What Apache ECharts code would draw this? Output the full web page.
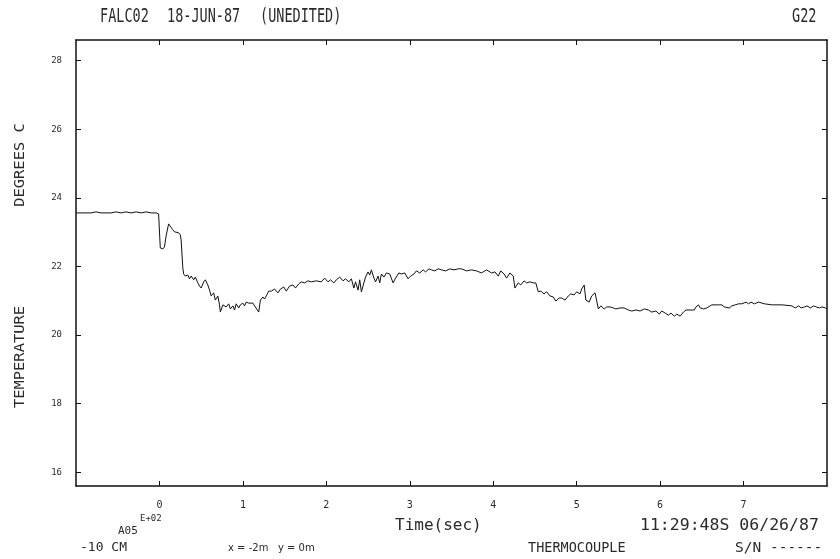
<!DOCTYPE html>
<html lang="en">
<head>
    <meta charset="UTF-8">
    <title>FALC02 thermocouple</title>
    <script src="https://cdn.jsdelivr.net/npm/echarts@6/dist/echarts.min.js"></script>
    <style>
        html, body { margin: 0; padding: 0; background: #fff; }
        #main { width: 840px; height: 559px; }
    </style>
</head>
<body>
<div id="main"></div>
<script type="text/javascript">
    // time in seconds (axis shows E+02), temperature in degrees C
    var timeSec = [-100, -82, -76, -70, -58, -52, -46, -40, -34, -28, -22, -16, -10, -4, -1,
        0, 1, 4, 6, 8, 11, 13, 16, 18, 20, 23, 25, 26, 28, 29, 31, 34, 36, 38, 41, 43, 46, 48,
        50, 53, 55, 58, 60, 62, 65, 67, 70, 72, 73, 76, 78, 80, 83, 85, 88, 90, 92, 95, 97,
        100, 102, 104, 107, 109, 112, 114, 116, 119, 121, 124, 126, 128, 131, 134, 138, 142,
        145, 149, 152, 156, 160, 163, 167, 170, 174, 178, 182, 188, 194, 198, 202, 205, 209,
        212, 216, 220, 223, 227, 230, 233, 235, 238, 240, 242, 245, 247, 250, 252, 254, 257,
        259, 262, 264, 266, 269, 272, 276, 280, 283, 287, 290, 294, 298, 301, 305, 308, 312,
        316, 319, 323, 326, 330, 334, 338, 343, 348, 353, 358, 362, 368, 374, 380, 386, 392,
        398, 402, 406, 409, 413, 416, 420, 424, 426, 430, 433, 437, 440, 444, 448, 451, 454,
        457, 461, 464, 468, 472, 475, 479, 482, 486, 490, 493, 497, 500, 504, 506, 509, 511,
        515, 518, 522, 526, 529, 533, 536, 540, 544, 547, 552, 557, 562, 566, 571, 576, 581,
        586, 590, 595, 599, 602, 606, 610, 613, 617, 620, 624, 628, 631, 636, 641, 643, 646,
        648, 652, 656, 662, 670, 674, 677, 679, 683, 686, 690, 694, 698, 703, 706, 709, 713,
        718, 720, 725, 734, 746, 758, 762, 766, 769, 773, 776, 780, 784, 787, 791, 794, 798, 800];
    var tempC = [23.56, 23.56, 23.59, 23.56, 23.56, 23.59, 23.56, 23.59, 23.56, 23.59, 23.56, 23.59, 23.56, 23.56, 23.53,
        23.53, 22.54, 22.51, 22.57, 22.89, 23.24, 23.27, 23.07, 23.01, 22.98, 22.98, 22.92, 22.77, 21.96, 21.78, 21.72, 21.75, 21.64, 21.72, 21.61, 21.69, 21.52, 21.43,
        21.37, 21.55, 21.61, 21.46, 21.31, 21.14, 21.23, 21.02, 21.14, 20.88, 20.67, 20.88, 20.93, 20.82, 20.91, 20.76, 20.85, 20.73, 20.91, 20.79, 20.88,
        20.93, 20.85, 20.96, 20.93, 20.88, 20.93, 20.85, 20.88, 20.67, 21.02, 21.11, 21.05, 21.14, 21.28, 21.28, 21.34, 21.23,
        21.34, 21.40, 21.28, 21.43, 21.46, 21.37, 21.49, 21.55, 21.52, 21.58, 21.55, 21.58, 21.55, 21.66, 21.55, 21.61, 21.52,
        21.61, 21.69, 21.58, 21.64, 21.55, 21.64, 21.37, 21.55, 21.31, 21.61, 21.26, 21.52, 21.69, 21.84, 21.75, 21.90, 21.66,
        21.55, 21.72, 21.52, 21.78, 21.69, 21.81, 21.78, 21.52, 21.66, 21.81, 21.78, 21.81, 21.64, 21.72, 21.78, 21.87, 21.81,
        21.90, 21.84, 21.93, 21.90, 21.87, 21.93, 21.90, 21.87, 21.93, 21.90, 21.93, 21.93, 21.87, 21.90, 21.87, 21.81, 21.90,
        21.81, 21.84, 21.72, 21.87, 21.78, 21.66, 21.81, 21.72, 21.37, 21.52, 21.46, 21.58, 21.52, 21.55, 21.52, 21.52, 21.26,
        21.28, 21.20, 21.26, 21.14, 21.11, 20.99, 21.08, 21.08, 21.02, 21.14, 21.20, 21.17, 21.26, 21.20, 21.34, 21.46, 21.02,
        20.96, 21.14, 21.23, 20.76, 20.85, 20.76, 20.82, 20.82, 20.79, 20.76, 20.79, 20.79, 20.73, 20.70, 20.73, 20.70, 20.76,
        20.73, 20.67, 20.70, 20.61, 20.70, 20.64, 20.58, 20.64, 20.55, 20.61, 20.55, 20.67, 20.73, 20.73, 20.73, 20.82, 20.88,
        20.79, 20.76, 20.79, 20.88, 20.88, 20.88, 20.82, 20.79, 20.79, 20.85, 20.88, 20.91, 20.91, 20.96, 20.91, 20.96, 20.91,
        20.96, 20.91, 20.91, 20.88, 20.88, 20.85, 20.79, 20.85, 20.79, 20.82, 20.85, 20.79, 20.85, 20.82, 20.79, 20.82, 20.79, 20.76];
    var xTicks = [0, 100, 200, 300, 400, 500, 600, 700];
    var yTicks = [16, 18, 20, 22, 24, 26, 28];

    var ink = '#2a2a2a';
    var mono = '"DejaVu Sans Mono", monospace';

    var myChart = echarts.init(document.getElementById('main'));

    function txt(s, x, y, size, opts) {
        opts = opts || {};
        return {
            type: 'text', x: x, y: y,
            rotation: opts.rotation || 0,
            scaleY: opts.scaleY || 1,
            scaleX: opts.scaleX || 1,
            style: {
                text: s, x: 0, y: 0,
                font: (opts.weight || 'normal') + ' ' + size + 'px ' + (opts.family || mono),
                fill: opts.color || ink,
                textAlign: opts.align || 'left',
                textVerticalAlign: 'middle'
            },
            silent: true
        };
    }

    function xAx(pos, showLabel) {
        return {
            type: 'value', position: pos, min: -100, max: 800,
            splitLine: { show: false },
            axisLine: { show: true, onZero: false, lineStyle: { color: '#111', width: 1.5 } },
            axisTick: { show: true, inside: true, length: 5, customValues: xTicks, lineStyle: { color: '#111' } },
            axisLabel: {
                show: showLabel, customValues: xTicks, margin: 14,
                fontFamily: mono, fontSize: 10, color: ink,
                formatter: function (v) { return String(v / 100); }
            }
        };
    }

    function yAx(pos, showLabel) {
        return {
            type: 'value', position: pos, min: 15.6, max: 28.6,
            splitLine: { show: false },
            axisLine: { show: true, onZero: false, lineStyle: { color: '#111', width: 1.5 } },
            axisTick: { show: true, inside: true, length: 5, customValues: yTicks, lineStyle: { color: '#111' } },
            axisLabel: {
                show: showLabel, customValues: yTicks, margin: 14,
                fontFamily: mono, fontSize: 9, color: ink
            }
        };
    }

    var option = {
        backgroundColor: '#fff',
        animation: false,
        grid: { left: 76, right: 13, top: 40, bottom: 73 },
        xAxis: [xAx('bottom', true), xAx('top', false)],
        yAxis: [yAx('left', true), yAx('right', false)],
        series: [{
            type: 'line',
            xAxisIndex: 0, yAxisIndex: 0,
            data: timeSec.map(function (t, i) { return [t, tempC[i]]; }),
            showSymbol: false,
            lineStyle: { color: '#111', width: 1 }
        }],
        graphic: [
            txt('FALC02', 100, 17, 13.5, { scaleY: 1.4 }),
            txt('18-JUN-87', 167, 17, 13.5, { scaleY: 1.4 }),
            txt('(UNEDITED)', 260, 17, 13.5, { scaleY: 1.4 }),
            txt('G22', 792, 17, 13.5, { scaleY: 1.4 }),
            txt('DEGREES C', 20, 165, 14, { rotation: Math.PI / 2, align: 'center', scaleX: 1.1 }),
            txt('TEMPERATURE', 20, 357, 14, { rotation: Math.PI / 2, align: 'center', scaleX: 1.1 }),
            txt('A05', 118, 531, 11),
            txt('E+02', 140, 519, 9),
            txt('Time(sec)', 395, 526, 16),
            txt('11:29:48S 06/26/87', 640, 526, 16.5),
            txt('-10 CM', 80, 548, 13),
            txt('x = -2m   y = 0m', 228, 548, 10, { family: '"DejaVu Sans", sans-serif' }),
            txt('THERMOCOUPLE', 528, 548, 13.5),
            txt('S/N ------', 735, 548, 14.5)
        ]
    };
    myChart.setOption(option);
</script>
</body>
</html>
